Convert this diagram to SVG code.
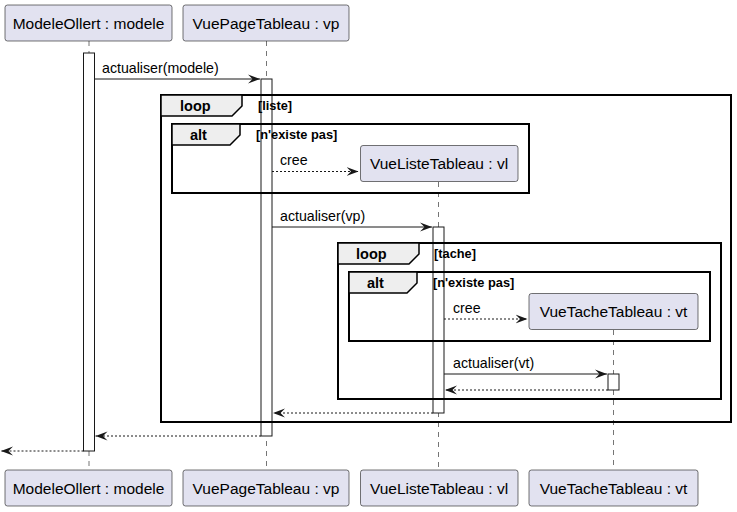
<svg xmlns="http://www.w3.org/2000/svg" width="737" height="512" viewBox="0 0 737 512">
<defs>
<style>
.pbox{fill:#E2E2F0;stroke:#181818;stroke-width:0.6}
.ptxt{font-family:"Liberation Sans",Arial,sans-serif;font-size:15.5px;fill:#000;text-anchor:middle}
.life{stroke:#181818;stroke-width:0.6;stroke-dasharray:5,5;fill:none}
.act{fill:#FFFFFF;stroke:#181818;stroke-width:1}
.msg{stroke:#181818;stroke-width:1;fill:none}
.ret{stroke:#181818;stroke-width:1;fill:none;stroke-dasharray:2,2}
.mtxt{font-family:"Liberation Sans",Arial,sans-serif;font-size:14.2px;fill:#000}
.frame{fill:none;stroke:#000;stroke-width:2}
.tab{fill:#EEEEEE;stroke:#000;stroke-width:1.5}
.ftxt{font-family:"Liberation Sans",Arial,sans-serif;font-size:14.5px;font-weight:bold;fill:#000}
.gtxt{font-family:"Liberation Sans",Arial,sans-serif;font-size:12.8px;font-weight:bold;fill:#000}
</style>
<marker id="ah" viewBox="0 0 13 10" refX="12" refY="5" markerWidth="13" markerHeight="10" markerUnits="userSpaceOnUse" orient="auto">
<polygon points="0,0.5 12,5 0,9.5 4.5,5" fill="#181818"/>
</marker>
</defs>

<g id="lifelines">
<line class="life" x1="89" y1="41" x2="89" y2="470"/>
<line class="life" x1="266.5" y1="41" x2="266.5" y2="470"/>
<line class="life" x1="438.5" y1="182" x2="438.5" y2="470"/>
<line class="life" x1="613.5" y1="330" x2="613.5" y2="470"/>
</g>

<g id="activations">
<rect class="act" x="83.5" y="53" width="11" height="398"/>
<rect class="act" x="261" y="79" width="11" height="357"/>
<rect class="act" x="433" y="227" width="11" height="186"/>
<rect class="act" x="608" y="374" width="11" height="16"/>
</g>

<g id="frames">
<rect class="frame" x="161" y="95" width="570" height="327"/>
<polygon class="tab" points="161,95 242,95 242,106 232,116 161,116"/>
<text class="ftxt" x="180" y="111">loop</text>
<text class="gtxt" x="258" y="110">[liste]</text>

<rect class="frame" x="172" y="124" width="357" height="69"/>
<polygon class="tab" points="172,124 240,124 240,135 230,145 172,145"/>
<text class="ftxt" x="190" y="140">alt</text>
<text class="gtxt" x="256" y="139">[n'existe pas]</text>

<rect class="frame" x="338" y="243" width="383" height="156"/>
<polygon class="tab" points="338,243 419,243 419,254 409,264 338,264"/>
<text class="ftxt" x="356" y="259">loop</text>
<text class="gtxt" x="434" y="258">[tache]</text>

<rect class="frame" x="349" y="272" width="361" height="69"/>
<polygon class="tab" points="349,272 417,272 417,283 407,293 349,293"/>
<text class="ftxt" x="367" y="288">alt</text>
<text class="gtxt" x="433" y="287">[n'existe pas]</text>
</g>

<g id="connectors">
<line class="msg" x1="94.5" y1="79" x2="260" y2="79" marker-end="url(#ah)"/>
<text class="mtxt" x="102" y="73">actualiser(modele)</text>
<line class="ret" x1="272" y1="171.5" x2="358.5" y2="171.5" marker-end="url(#ah)"/>
<text class="mtxt" x="280" y="165">cree</text>
<line class="msg" x1="272" y1="227" x2="432" y2="227" marker-end="url(#ah)"/>
<text class="mtxt" x="280" y="221">actualiser(vp)</text>
<line class="ret" x1="444" y1="319" x2="527.5" y2="319" marker-end="url(#ah)"/>
<text class="mtxt" x="453" y="313">cree</text>
<line class="msg" x1="444" y1="374" x2="607" y2="374" marker-end="url(#ah)"/>
<text class="mtxt" x="453" y="368">actualiser(vt)</text>
<line class="ret" x1="608" y1="390" x2="445" y2="390" marker-end="url(#ah)"/>
<line class="ret" x1="433" y1="413" x2="273" y2="413" marker-end="url(#ah)"/>
<line class="ret" x1="261" y1="436" x2="95.5" y2="436" marker-end="url(#ah)"/>
<line class="ret" x1="83.5" y1="451" x2="1" y2="451" marker-end="url(#ah)"/>
</g>

<g id="p-modele">
<rect class="pbox" x="5" y="5" width="167" height="36" rx="2.5"/>
<text class="ptxt" x="88.5" y="28.5">ModeleOllert : modele</text>
<rect class="pbox" x="5" y="470" width="167" height="36" rx="2.5"/>
<text class="ptxt" x="88.5" y="493.5">ModeleOllert : modele</text>
</g>
<g id="p-vp">
<rect class="pbox" x="183" y="5" width="166" height="36" rx="2.5"/>
<text class="ptxt" x="266" y="28.5">VuePageTableau : vp</text>
<rect class="pbox" x="183" y="470" width="166" height="36" rx="2.5"/>
<text class="ptxt" x="266" y="493.5">VuePageTableau : vp</text>
</g>
<g id="p-vl">
<rect class="pbox" x="360.5" y="145.5" width="157.5" height="36" rx="2.5"/>
<text class="ptxt" x="439" y="169">VueListeTableau : vl</text>
<rect class="pbox" x="360.5" y="470" width="157.5" height="36" rx="2.5"/>
<text class="ptxt" x="439" y="493.5">VueListeTableau : vl</text>
</g>
<g id="p-vt">
<rect class="pbox" x="529" y="293.5" width="169" height="36" rx="2.5"/>
<text class="ptxt" x="613.5" y="317">VueTacheTableau : vt</text>
<rect class="pbox" x="529" y="470" width="169" height="36" rx="2.5"/>
<text class="ptxt" x="613.5" y="493.5">VueTacheTableau : vt</text>
</g>
</svg>
